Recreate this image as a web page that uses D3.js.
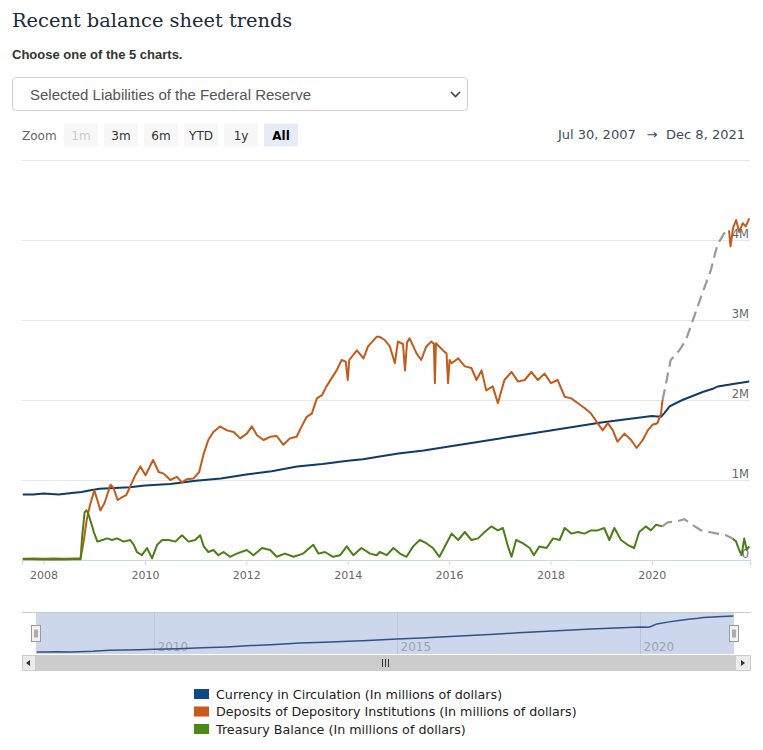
<!DOCTYPE html>
<html lang="en">
<head>
  <meta charset="UTF-8">
  <title>Recent balance sheet trends</title>
  <script src="https://d3js.org/d3.v7.min.js"></script>
  <style>
    body { margin: 0; background: #fff; }
    text { font-family: "DejaVu Sans", sans-serif; }
  </style>
</head>
<body>
  <div id="chart"></div>

  <script>
    // Values in millions of millions of dollars (axis shows "M"), dates as decimal years
    const currencyYears = [2007.59, 2007.8, 2008.0, 2008.3, 2008.6, 2008.75, 2008.9, 2009.1, 2009.4, 2009.7, 2010.0, 2010.5,
      2011.0, 2011.5, 2012.0, 2012.5, 2013.0, 2013.5, 2014.0, 2014.3, 2014.6, 2015.0, 2015.5, 2016.0, 2016.5, 2017.0,
      2017.5, 2018.0, 2018.5, 2019.0, 2019.5, 2020.0, 2020.18, 2020.25, 2020.35, 2020.6, 2020.8, 2021.0, 2021.2, 2021.3,
      2021.6, 2021.92];
    const currencyValues = [0.82, 0.82, 0.83, 0.82, 0.84, 0.85, 0.87, 0.89, 0.90, 0.91, 0.93, 0.95,
      0.99, 1.02, 1.07, 1.11, 1.17, 1.20, 1.24, 1.26, 1.29, 1.33, 1.37, 1.42, 1.47, 1.52,
      1.57, 1.62, 1.67, 1.72, 1.76, 1.80, 1.79, 1.84, 1.92, 2.00, 2.05, 2.10, 2.14, 2.17,
      2.20, 2.23];

    const depositYears = [2007.59, 2007.80, 2008.00, 2008.20, 2008.40, 2008.60, 2008.73, 2008.79, 2008.85, 2008.92,
      2009.00, 2009.06, 2009.12, 2009.20, 2009.32, 2009.38, 2009.46, 2009.56, 2009.63, 2009.71, 2009.81, 2009.91,
      2010.01, 2010.16, 2010.27, 2010.37, 2010.50, 2010.63, 2010.73, 2010.83, 2010.96, 2011.07, 2011.16, 2011.25,
      2011.35, 2011.48, 2011.62, 2011.75, 2011.88, 2012.01, 2012.11, 2012.21, 2012.34, 2012.47, 2012.60, 2012.73,
      2012.86, 2012.99, 2013.09, 2013.19, 2013.29, 2013.39, 2013.49, 2013.58, 2013.68, 2013.78, 2013.88, 2013.96,
      2014.00, 2014.03, 2014.18, 2014.31, 2014.40, 2014.57, 2014.63, 2014.73, 2014.83, 2014.93, 2014.99, 2015.09,
      2015.13, 2015.17, 2015.22, 2015.36, 2015.45, 2015.55, 2015.65, 2015.70, 2015.72, 2015.74, 2015.88, 2015.95,
      2015.98, 2016.01, 2016.05, 2016.18, 2016.31, 2016.44, 2016.54, 2016.64, 2016.73, 2016.86, 2016.96, 2017.09,
      2017.23, 2017.36, 2017.49, 2017.62, 2017.75, 2017.88, 2018.01, 2018.14, 2018.28, 2018.41, 2018.54, 2018.67,
      2018.80, 2018.93, 2019.03, 2019.13, 2019.23, 2019.32, 2019.46, 2019.59, 2019.70, 2019.82, 2019.92, 2020.01,
      2020.11, 2020.18, 2020.21, 2020.28, 2020.37, 2020.54, 2020.67, 2020.83, 2020.99, 2021.16, 2021.29, 2021.42,
      2021.52, 2021.55, 2021.60, 2021.66, 2021.72, 2021.79, 2021.85, 2021.92];
    const depositValues = [0.015, 0.02, 0.015, 0.02, 0.015, 0.02, 0.02, 0.23, 0.50, 0.70,
      0.87, 0.75, 0.62, 0.71, 0.94, 0.90, 0.75, 0.79, 0.81, 0.92, 1.06, 1.17,
      1.06, 1.25, 1.10, 1.08, 1.00, 1.04, 0.97, 1.01, 1.02, 1.10, 1.33, 1.50,
      1.60, 1.67, 1.62, 1.60, 1.52, 1.58, 1.67, 1.56, 1.50, 1.54, 1.55, 1.44,
      1.52, 1.54, 1.67, 1.79, 1.83, 2.02, 2.06, 2.17, 2.27, 2.37, 2.50, 2.48,
      2.25, 2.50, 2.62, 2.52, 2.67, 2.79, 2.79, 2.75, 2.67, 2.46, 2.73, 2.70,
      2.37, 2.72, 2.77, 2.58, 2.50, 2.67, 2.73, 2.70, 2.21, 2.71, 2.62, 2.58,
      2.21, 2.50, 2.46, 2.52, 2.42, 2.40, 2.25, 2.37, 2.12, 2.17, 1.96, 2.25,
      2.35, 2.23, 2.25, 2.35, 2.25, 2.33, 2.21, 2.25, 2.04, 2.02, 1.96, 1.90,
      1.83, 1.71, 1.62, 1.71, 1.62, 1.48, 1.58, 1.50, 1.40, 1.50, 1.62, 1.69,
      1.71, 1.83, 2.00, 2.21, 2.50, 2.62, 2.75, 3.04, 3.33, 3.62, 3.94, 4.08,
      4.12, 3.92, 4.15, 4.25, 4.10, 4.21, 4.17, 4.27];

    const treasuryYears = [2007.59, 2007.8, 2008.0, 2008.2, 2008.4, 2008.6, 2008.73, 2008.76, 2008.81, 2008.85,
      2008.89, 2008.94, 2008.99, 2009.06, 2009.16, 2009.25, 2009.35, 2009.45, 2009.58, 2009.71, 2009.78, 2009.84,
      2009.94, 2010.04, 2010.14, 2010.24, 2010.34, 2010.47, 2010.60, 2010.73, 2010.86, 2010.99, 2011.09, 2011.16,
      2011.25, 2011.35, 2011.45, 2011.55, 2011.68, 2011.81, 2012.01, 2012.14, 2012.31, 2012.47, 2012.60, 2012.76,
      2012.93, 2013.12, 2013.32, 2013.42, 2013.55, 2013.71, 2013.85, 2013.98, 2014.11, 2014.27, 2014.44, 2014.57,
      2014.63, 2014.77, 2014.90, 2015.03, 2015.16, 2015.29, 2015.42, 2015.55, 2015.68, 2015.81, 2015.95, 2016.05,
      2016.18, 2016.31, 2016.44, 2016.57, 2016.70, 2016.83, 2016.96, 2017.06, 2017.16, 2017.23, 2017.32, 2017.45,
      2017.59, 2017.67, 2017.78, 2017.92, 2018.05, 2018.18, 2018.28, 2018.41, 2018.54, 2018.67, 2018.80, 2018.93,
      2019.06, 2019.16, 2019.26, 2019.39, 2019.52, 2019.65, 2019.75, 2019.88, 2019.98, 2020.08, 2020.21, 2020.31,
      2020.47, 2020.64, 2020.80, 2020.97, 2021.13, 2021.29, 2021.46, 2021.59, 2021.66, 2021.72, 2021.77, 2021.82,
      2021.87, 2021.92];
    const treasuryValues = [0.01, 0.01, 0.005, 0.01, 0.005, 0.01, 0.01, 0.29, 0.60, 0.62,
      0.56, 0.46, 0.35, 0.23, 0.25, 0.27, 0.25, 0.27, 0.23, 0.25, 0.19, 0.10,
      0.06, 0.15, 0.02, 0.19, 0.25, 0.25, 0.23, 0.31, 0.23, 0.25, 0.31, 0.17,
      0.10, 0.125, 0.06, 0.10, 0.04, 0.08, 0.125, 0.06, 0.15, 0.125, 0.04, 0.08,
      0.04, 0.08, 0.19, 0.08, 0.10, 0.04, 0.06, 0.17, 0.06, 0.15, 0.08, 0.06,
      0.10, 0.06, 0.15, 0.08, 0.04, 0.17, 0.25, 0.21, 0.15, 0.04, 0.21, 0.33,
      0.25, 0.35, 0.25, 0.27, 0.35, 0.42, 0.37, 0.40, 0.17, 0.04, 0.25, 0.21,
      0.15, 0.06, 0.17, 0.15, 0.27, 0.25, 0.40, 0.33, 0.35, 0.33, 0.37, 0.37,
      0.40, 0.25, 0.40, 0.25, 0.19, 0.15, 0.35, 0.42, 0.37, 0.44, 0.42, 0.47,
      0.48, 0.51, 0.44, 0.37, 0.35, 0.33, 0.31, 0.27, 0.23, 0.125, 0.06, 0.27,
      0.125, 0.17];

    // periods drawn as grey dashes in the original
    const depositGap = [2020.21, 2021.52];
    const treasuryGap = [2020.21, 2021.59];

    const seriesNames = [
      "Currency in Circulation (In millions of dollars)",
      "Deposits of Depository Institutions (In millions of dollars)",
      "Treasury Balance (In millions of dollars)"
    ];
    const yTicks = [0, 1, 2, 3, 4];
    const navTicks = [2010, 2015, 2020];
    const zoomButtons = ["1m", "3m", "6m", "YTD", "1y", "All"];
    const startDate = new Date(2007, 6, 30);
    const endDate = new Date(2021, 11, 8);

    const colors = ["#103b66", "#c45a1a", "#4b7f16"];
    const legendColors = ["#0d4a86", "#c9591d", "#4a8a18"];

    function toDate(t) {
      const yr = Math.floor(t);
      const a = new Date(yr, 0, 1), b = new Date(yr + 1, 0, 1);
      return new Date(+a + (t - yr) * (b - a));
    }
    function zip(years, values) {
      return years.map((t, i) => ({ t: t, date: toDate(t), value: values[i] }));
    }

    const currency = zip(currencyYears, currencyValues);
    const deposits = zip(depositYears, depositValues);
    const treasury = zip(treasuryYears, treasuryValues);

    const svg = d3.select("#chart").append("svg")
      .attr("width", 763)
      .attr("height", 750);

    // Header
    svg.append("text")
      .attr("x", 12).attr("y", 27)
      .style("font-family", "'DejaVu Serif', serif")
      .style("font-size", "19.4px")
      .attr("fill", "#1b2a3b")
      .text("Recent balance sheet trends");

    svg.append("text")
      .attr("x", 12).attr("y", 59)
      .style("font-family", "'Liberation Sans', Arial, sans-serif")
      .style("font-size", "13px")
      .style("font-weight", "bold")
      .attr("fill", "#333")
      .text("Choose one of the 5 charts.");

    svg.append("rect")
      .attr("x", 12.5).attr("y", 77.5)
      .attr("width", 455).attr("height", 33)
      .attr("rx", 3)
      .attr("fill", "#fff")
      .attr("stroke", "#cfcfcf");
    svg.append("text")
      .attr("x", 30).attr("y", 100)
      .style("font-family", "'Liberation Sans', Arial, sans-serif")
      .style("font-size", "15px")
      .attr("fill", "#555")
      .text("Selected Liabilities of the Federal Reserve");
    svg.append("path")
      .attr("d", "M451,92 L455.5,96.5 L460,92")
      .attr("fill", "none")
      .attr("stroke", "#444")
      .attr("stroke-width", 1.6);

    // Range selector
    svg.append("text")
      .attr("x", 22).attr("y", 140)
      .style("font-size", "12px")
      .attr("fill", "#666")
      .text("Zoom");

    const btn = svg.selectAll(".zbtn")
      .data(zoomButtons)
      .enter().append("g")
        .attr("class", "zbtn")
        .attr("transform", (d, i) => "translate(" + (64 + i * 40) + ",123.5)");
    btn.append("rect")
      .attr("width", 34).attr("height", 23)
      .attr("fill", d => d === "All" ? "#e6ebf5" : "#f7f7f7");
    btn.append("text")
      .attr("x", 17).attr("y", 16.5)
      .attr("text-anchor", "middle")
      .style("font-size", "12px")
      .style("font-weight", d => d === "All" ? "bold" : "normal")
      .attr("fill", d => d === "1m" ? "#cccccc" : (d === "All" ? "#000" : "#333"))
      .text(d => d);

    svg.append("text")
      .attr("x", 558).attr("y", 139)
      .style("font-size", "13px")
      .attr("fill", "#3b4a60")
      .text(d3.timeFormat("%b %-d, %Y")(startDate));
    svg.append("text")
      .attr("x", 652).attr("y", 139)
      .attr("text-anchor", "middle")
      .style("font-size", "13px")
      .attr("fill", "#3b4a60")
      .text("\u2192");
    svg.append("text")
      .attr("x", 745).attr("y", 139)
      .attr("text-anchor", "end")
      .style("font-size", "13px")
      .attr("fill", "#3b4a60")
      .text(d3.timeFormat("%b %-d, %Y")(endDate));

    svg.append("line")
      .attr("x1", 22).attr("x2", 750)
      .attr("y1", 160.5).attr("y2", 160.5)
      .attr("stroke", "#e6e6e6");

    // Main plot scales
    const x = d3.scaleTime().domain([startDate, endDate]).range([22, 750]);
    const y = d3.scaleLinear().domain([0, 5]).range([560, 160]);

    // Gridlines and right-side labels
    const yAxis = svg.append("g")
      .attr("transform", "translate(750,0)")
      .call(d3.axisLeft(y).tickValues(yTicks).tickSize(728)
        .tickFormat(d => d === 0 ? "0" : d + "M"));
    yAxis.select(".domain").remove();
    yAxis.selectAll(".tick line").attr("stroke", "#e6e6e6").attr("stroke-width", 1);
    yAxis.selectAll(".tick text")
      .attr("x", -1)
      .attr("y", 0)
      .attr("dy", "-3px")
      .attr("text-anchor", "end")
      .style("font-size", "11.5px")
      .style("font-family", "'DejaVu Sans', sans-serif")
      .attr("fill", "#666");

    // x axis
    const xAxis = svg.append("g")
      .attr("transform", "translate(0,560)")
      .call(d3.axisBottom(x).ticks(d3.timeYear.every(2)).tickSize(5).tickFormat(d3.timeFormat("%Y")));
    xAxis.select(".domain").attr("stroke", "#ccd6eb");
    xAxis.selectAll(".tick line").attr("stroke", "#ccd6eb");
    xAxis.selectAll(".tick text")
      .attr("y", 11)
      .style("font-size", "11px")
      .style("font-family", "'DejaVu Sans', sans-serif")
      .attr("fill", "#666");

    const line = d3.line()
      .x(d => x(d.date))
      .y(d => y(d.value));

    function drawSplit(data, gap, color) {
      const before = data.filter(d => d.t <= gap[0]);
      const mid = data.filter(d => d.t >= gap[0] && d.t <= gap[1]);
      const after = data.filter(d => d.t >= gap[1]);
      [before, after].forEach(part => {
        svg.append("path")
          .datum(part)
          .attr("fill", "none")
          .attr("stroke", color)
          .attr("stroke-width", 2)
          .attr("stroke-linejoin", "round")
          .attr("d", line);
      });
      svg.append("path")
        .datum(mid)
        .attr("fill", "none")
        .attr("stroke", "#9a9a9a")
        .attr("stroke-width", 2.2)
        .attr("stroke-dasharray", "11,6")
        .attr("d", line);
    }

    svg.append("path")
      .datum(currency)
      .attr("fill", "none")
      .attr("stroke", colors[0])
      .attr("stroke-width", 2)
      .attr("d", line);
    drawSplit(deposits, depositGap, colors[1]);
    drawSplit(treasury, treasuryGap, colors[2]);

    // Navigator
    const nx = d3.scaleTime().domain([startDate, endDate]).range([36, 734]);
    const ny = d3.scaleLinear().domain(d3.extent(currencyValues)).range([652, 616]);

    svg.append("rect")
      .attr("x", 36).attr("y", 612)
      .attr("width", 698).attr("height", 42)
      .attr("fill", "#cdd7eb");
    svg.append("line")
      .attr("x1", 22).attr("x2", 751)
      .attr("y1", 612.5).attr("y2", 612.5)
      .attr("stroke", "#cccccc");

    const navTick = svg.selectAll(".navtick")
      .data(navTicks)
      .enter().append("g")
        .attr("class", "navtick")
        .attr("transform", d => "translate(" + Math.round(nx(new Date(d, 0, 1))) + ".5,0)");
    navTick.append("line")
      .attr("y1", 612).attr("y2", 654)
      .attr("stroke", "#bac4d8");
    navTick.append("text")
      .attr("x", 3).attr("y", 651)
      .style("font-size", "12px")
      .attr("fill", "#9aa3b3")
      .text(d => d);

    svg.append("path")
      .datum(currency)
      .attr("fill", "none")
      .attr("stroke", "#2f5189")
      .attr("stroke-width", 1.5)
      .attr("d", d3.line().x(d => nx(d.date)).y(d => ny(d.value)));

    [nx(startDate), nx(endDate)].forEach(hx => {
      const h = svg.append("g").attr("transform", "translate(" + (Math.round(hx) - 4.5) + ",625.5)");
      h.append("rect")
        .attr("width", 9).attr("height", 16)
        .attr("fill", "#f2f2f2")
        .attr("stroke", "#999");
      h.append("path")
        .attr("d", "M3.5,4 V12 M5.5,4 V12")
        .attr("stroke", "#666");
    });

    // Scrollbar
    svg.append("rect")
      .attr("x", 22).attr("y", 655)
      .attr("width", 729).attr("height", 16)
      .attr("fill", "#f2f2f2");
    svg.append("rect")
      .attr("x", 36).attr("y", 655)
      .attr("width", 699).attr("height", 16)
      .attr("fill", "#cccccc");
    svg.append("path")
      .attr("d", "M382.5,659 V667 M385.5,659 V667 M388.5,659 V667")
      .attr("stroke", "#333");
    svg.append("rect")
      .attr("x", 22.5).attr("y", 655.5)
      .attr("width", 13).attr("height", 15)
      .attr("fill", "#ebebeb").attr("stroke", "#cccccc");
    svg.append("rect")
      .attr("x", 735.5).attr("y", 655.5)
      .attr("width", 15).attr("height", 15)
      .attr("fill", "#ebebeb").attr("stroke", "#cccccc");
    svg.append("path").attr("d", "M30,660 L26,663 L30,666 Z").attr("fill", "#333");
    svg.append("path").attr("d", "M741,660 L745,663 L741,666 Z").attr("fill", "#333");

    // Legend
    const legend = svg.selectAll(".legend")
      .data(seriesNames)
      .enter().append("g")
        .attr("class", "legend")
        .attr("transform", (d, i) => "translate(194," + (694 + i * 17.5) + ")");
    legend.append("rect")
      .attr("x", 0).attr("y", -5)
      .attr("width", 15).attr("height", 10)
      .attr("fill", (d, i) => legendColors[i]);
    legend.append("text")
      .attr("x", 22).attr("y", 4.5)
      .style("font-size", "12.7px")
      .attr("fill", "#222")
      .text(d => d);
  </script>
</body>
</html>
